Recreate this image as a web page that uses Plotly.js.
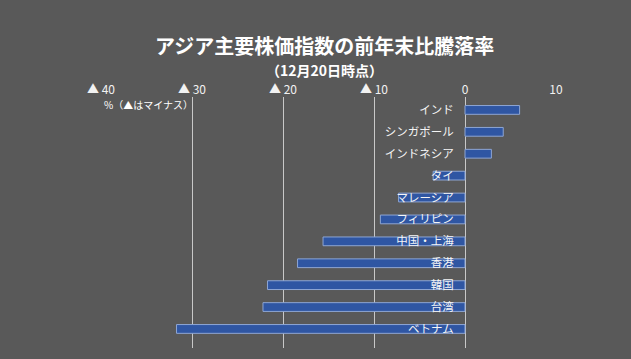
<!DOCTYPE html>
<html>
<head>
<meta charset="utf-8">
<script src="https://cdn.plot.ly/plotly-3.0.1.min.js"></script>
<style>html,body{margin:0;padding:0;background:#595959;}</style>
</head>
<body>
<div id="chart" style="width:631px;height:359px;"></div>
<script>
const categories = ["インド","シンガポール","インドネシア","タイ","マレーシア","フィリピン","中国・上海","香港","韓国","台湾","ベトナム"];
const values = [6.0, 4.2, 2.9, -3.5, -7.3, -9.3, -15.6, -18.4, -21.7, -22.2, -31.7];
const tickVals = [-40, -30, -20, -10, 0, 10];
const tickText = ["▲ 40", "▲ 30", "▲ 20", "▲ 10", "0", "10"];
const titleText = "アジア主要株価指数の前年末比騰落率";
const subtitleText = "（12月20日時点）";
const unitText = "%（▲はマイナス）";

const font = "'Noto Sans CJK JP', 'Noto Sans', sans-serif";

const trace = {
  type: "bar",
  orientation: "h",
  x: values,
  y: categories,
  marker: {color: "#2f56a3", line: {color: "#8ea6d4", width: 1}},
  width: 0.4,
  hoverinfo: "skip"
};

const layout = {
  width: 631, height: 359,
  paper_bgcolor: "#595959",
  plot_bgcolor: "#595959",
  margin: {l: 101, r: 75, t: 97, b: 11},
  showlegend: false,
  font: {family: font, color: "#ffffff"},
  xaxis: {
    side: "top",
    range: [-40, 10],
    tickvals: tickVals,
    ticktext: tickText,
    tickfont: {size: 12, color: "#f2f2f2", family: font},
    showgrid: true,
    gridcolor: "#c8c8c8",
    gridwidth: 1,
    zeroline: false,
    showline: false,
    ticks: "",
    fixedrange: true
  },
  yaxis: {
    type: "category",
    range: [10.87, -0.59],
    anchor: "free",
    position: 0.8,
    side: "left",
    showgrid: false,
    zeroline: false,
    showline: false,
    ticks: "outside",
    ticklen: 9,
    tickcolor: "rgba(0,0,0,0)",
    tickfont: {size: 11.5, color: "#f5f5f5", family: font},
    fixedrange: true
  },
  annotations: [
    {text: "<b>" + titleText + "</b>", xref: "paper", yref: "paper",
     x: (324 - 101) / 455, y: 1, yshift: 52, xanchor: "center", yanchor: "middle",
     showarrow: false, font: {size: 20, color: "#ffffff", family: font}},
    {text: "<b>" + subtitleText + "</b>", xref: "paper", yref: "paper",
     x: (324 - 101) / 455, y: 1, yshift: 27, xanchor: "center", yanchor: "middle",
     showarrow: false, font: {size: 14, color: "#ffffff", family: font}},
    {text: unitText, xref: "paper", yref: "paper",
     x: 0, y: 1, xshift: 1, yshift: -7, xanchor: "left", yanchor: "middle",
     showarrow: false, font: {size: 10, color: "#ffffff", family: font}}
  ]
};

Plotly.newPlot("chart", [trace], layout, {displayModeBar: false, staticPlot: true});
</script>
</body>
</html>
